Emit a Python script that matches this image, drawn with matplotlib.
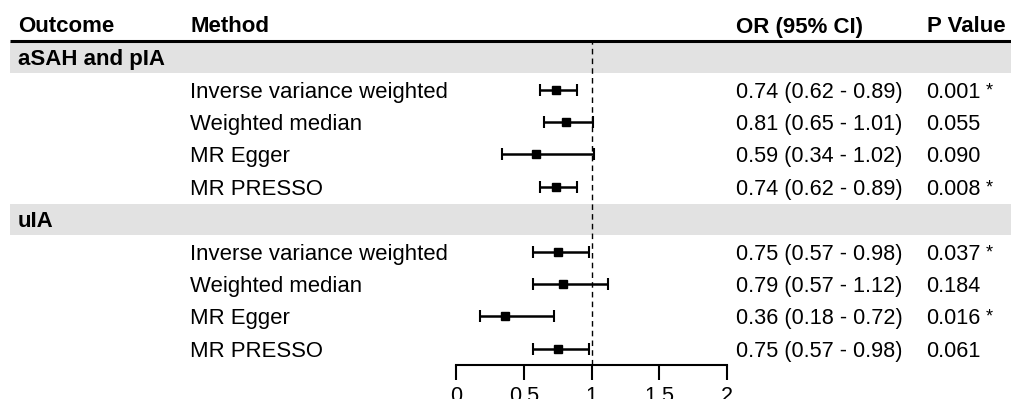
import matplotlib
matplotlib.use('Agg')
import matplotlib.pyplot as plt

#============= Data =============

outcomes = ['aSAH and pIA', 'uIA']
methods = ['Inverse variance weighted', 'Weighted median', 'MR Egger', 'MR PRESSO']

or_est = [[0.74, 0.81, 0.59, 0.74],
          [0.75, 0.79, 0.36, 0.75]]
ci_low = [[0.62, 0.65, 0.34, 0.62],
          [0.57, 0.57, 0.18, 0.57]]
ci_high = [[0.89, 1.01, 1.02, 0.89],
           [0.98, 1.12, 0.72, 0.98]]
p_vals = [['0.001', '0.055', '0.090', '0.008'],
          ['0.037', '0.184', '0.016', '0.061']]
signif = [[True, False, False, True],
          [True, False, True, False]]

x_ticks = [0, 0.5, 1, 1.5, 2]
x_tick_labels = ['0', '0.5', '1', '1.5', '2']

#============= Layout (pixels) =============

W, H = 1011, 399
top = 41          # header rule
row_h = 32.4
n_rows = len(outcomes) * (len(methods) + 1)
bottom = top + row_h * n_rows
fp_left, fp_right = 456, 727

plt.rcParams['font.family'] = ['Liberation Sans', 'DejaVu Sans']
fs = 16
fs_body = 15.6

fig = plt.figure(figsize=(W / 100, H / 100), dpi=100)

# background axes in pixel units for the table
bg = fig.add_axes([0, 0, 1, 1])
bg.set_xlim(0, W)
bg.set_ylim(H, 0)
bg.axis('off')

# forest axes
fp = fig.add_axes([fp_left / W, 1 - bottom / H, (fp_right - fp_left) / W, (bottom - top) / H])
fp.patch.set_alpha(0)
fp.set_xlim(0, 2)
fp.set_ylim(n_rows, 0)
for s in ['top', 'right', 'left']:
    fp.spines[s].set_visible(False)
fp.spines['bottom'].set_linewidth(1.5)
fp.set_yticks([])
fp.set_xticks(x_ticks)
fp.set_xticklabels(x_tick_labels, fontsize=fs_body)
fp.tick_params(axis='x', direction='out', length=11, width=1.5, pad=4, colors='black')
fp.axvline(1, color='black', lw=1, ls=(0, (4, 3)), zorder=1)

# header
bg.text(18, top - 8.5, 'Outcome', fontsize=fs, fontweight='bold', va='baseline')
bg.text(190, top - 8.5, 'Method', fontsize=fs, fontweight='bold', va='baseline')
bg.text(736, top - 8.5, 'OR (95% CI)', fontsize=fs, fontweight='bold', va='baseline')
bg.text(927, top - 8.5, 'P Value', fontsize=fs, fontweight='bold', va='baseline')
bg.plot([10, W], [top, top], color='black', lw=2.2, solid_capstyle='butt')

row = 0
for g, outcome in enumerate(outcomes):
    y0 = top + row * row_h
    bg.add_patch(plt.Rectangle((10, y0 + 1), W - 10, row_h - 1, color='#e2e2e2', lw=0, zorder=0))
    bg.text(18, y0 + row_h / 2 + 8, outcome, fontsize=fs, fontweight='bold', va='baseline')
    row += 1
    for m, method in enumerate(methods):
        yc = top + (row + 0.5) * row_h
        bg.text(190, yc + 8, method, fontsize=15.9, va='baseline')
        bg.text(736, yc + 8, f'{or_est[g][m]:.2f} ({ci_low[g][m]:.2f} - {ci_high[g][m]:.2f})',
                fontsize=fs_body, va='baseline')
        bg.text(926, yc + 8, p_vals[g][m], fontsize=fs_body, va='baseline')
        if signif[g][m]:
            bg.text(986, yc + 1, '*', fontsize=13, va='center')
        fp.errorbar(or_est[g][m], row + 0.5,
                    xerr=[[or_est[g][m] - ci_low[g][m]], [ci_high[g][m] - or_est[g][m]]],
                    fmt='s', color='black', ms=6, lw=1.8, capsize=4, capthick=1.5, zorder=3,
                    clip_on=False)
        row += 1

fig.savefig('out.png', dpi=100)
